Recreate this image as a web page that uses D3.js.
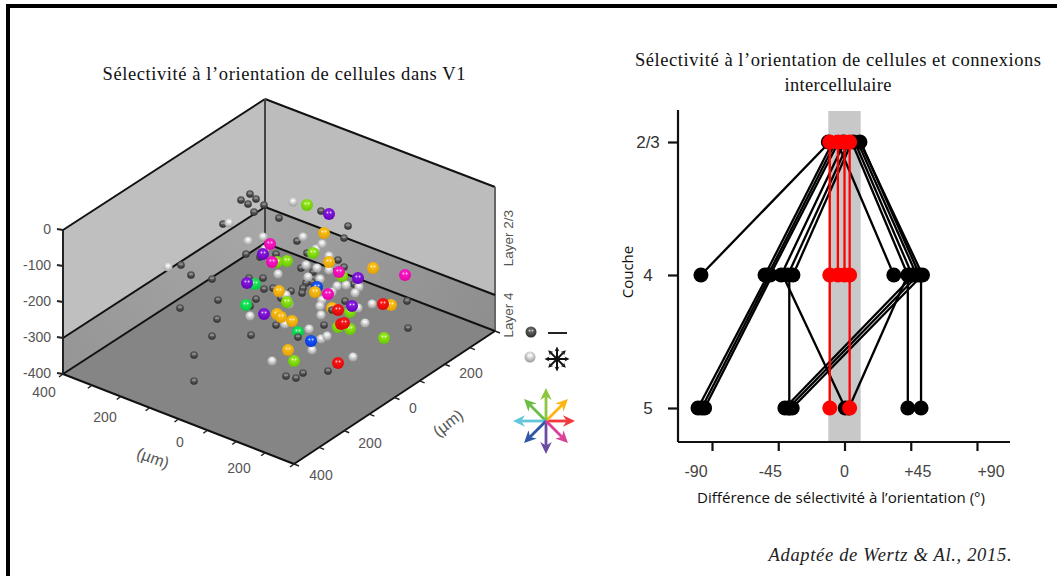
<!DOCTYPE html>
<html><head><meta charset="utf-8">
<script src="https://cdn.jsdelivr.net/npm/d3@7/dist/d3.min.js"></script>
<style>html,body{margin:0;padding:0;background:#fff}svg{display:block}</style>
</head><body><svg id="c" width="1057" height="576"></svg>
<script>
// Cell positions in the oblique view plane of the 3D plot: [across, up]
const darkCells=[[-78,160],[-60,172],[-48,162],[-64,152],[-32,150],[-52,136],[-114,112],[-2,124],[82,138],[136,108],[128,84],[34,78],[-68,52],[-40,46],[-8,52],[-198,30],[-178,10],[-136,2],[-200,-56],[-124,-40],[-126,-78],[-136,-112],[-172,-150],[-172,-202],[-58,-110],[-62,4],[-34,4],[-32,-18],[-14,-16],[22,-22],[2,-36],[-48,-38],[-60,-52],[54,54],[116,40],[128,26],[42,24],[66,16],[64,-4],[52,-6],[46,-16],[44,-26],[148,-8],[130,-42],[88,-90],[-8,-90],[46,-186],[12,-192],[32,-196],[96,-182],[254,-42],[256,-96]];
const whiteCells=[[-224,26],[-102,114],[26,156],[-64,78],[-34,86],[-30,62],[-4,12],[46,86],[72,62],[84,72],[98,48],[52,30],[74,24],[98,20],[56,6],[80,2],[114,-12],[132,-10],[158,-14],[150,-26],[104,-24],[84,-40],[80,-52],[82,-70],[12,-30],[18,-48],[-60,-72],[10,-88],[58,-98],[82,-118],[94,-112],[64,-140],[-16,-162],[146,-154],[170,-86],[184,-48],[156,-56]];
const limeCells=[[54,150],[66,54],[14,38],[-6,36],[14,-44],[124,8],[140,-64],[116,-94],[140,-98],[208,-116],[28,-162]];
const purpleCells=[[98,132],[-34,52],[-66,-6],[-32,-68],[156,4],[144,-52]];
const magentaCells=[[-20,72],[-16,36],[118,16],[250,10],[96,-28]];
const greenCells=[[-50,-8],[-68,-50],[36,-104]];
const orangeCells=[[88,94],[98,36],[186,24],[-2,-22],[70,-24],[-6,-68],[2,-74],[24,-82],[16,-140],[104,-56],[222,-50]];
const blueCells=[[74,-14],[62,-122]];
const redCells=[[206,-48],[116,-60],[122,-88],[128,-86],[116,-166]];
const overlayDarkCells=[[104,-60],[36,-114]];

// Axis values of the 3D box
const depthTicks=[0,-100,-200,-300,-400];
const planTicks=[-400,-300,-200,-100,0,100,200,300,400];

// Right plot: connections [selectivity difference in upper layer, lower layer], degrees
const l23to4Black=[[-10,-97.5],[-8,-54],[-6,-52],[-4,-50.5],[0,-43],[3,-38.5],[5,-35],[-5,33.5],[5,43],[7,46],[9,49],[11,51],[10.5,53]];
const l23to4Red=[[-10,-10],[-4.5,-4.5],[0,0],[3.5,3.5]];
const l4to5Black=[[-52,-99.5],[-50.5,-97],[-49,-95],[-37.5,-37.5],[-42,0.5],[53,-35.5],[50,-38],[47,-40.5],[43,3],[43,43],[52,52]];
const l4to5Red=[[-10,-10],[3.5,3.5]];
const l23Black=[-11,-1,6,10.5];
const layerTicks=[{v:0,t:"2/3"},{v:1,t:"4"},{v:2,t:"5"}];
const diffTicks=[{v:-90,t:"-90",d:-16},{v:-45,t:"-45",d:-8},{v:0,t:"0",d:0},{v:45,t:"+45",d:7},{v:90,t:"+90",d:14}];

const arrowDirs=[{a:0,c:"#f2383c"},{a:45,c:"#fdb515"},{a:90,c:"#8cc63f"},{a:135,c:"#6cbd45"},{a:180,c:"#62c6dc"},{a:225,c:"#2e56a6"},{a:270,c:"#6b4ba1"},{a:315,c:"#dc3f98"}];

const svg=d3.select("#c");
const sans="'Liberation Sans',Arial,sans-serif", serif="'Liberation Serif','Times New Roman',serif";
const defs=svg.append("defs");
svg.append("rect").attr("width",1057).attr("height",576).attr("fill","#fff");
// frame
svg.append("rect").attr("x",6).attr("y",4).attr("width",1051).attr("height",4).attr("fill","#000");
svg.append("rect").attr("x",6).attr("y",4).attr("width",4).attr("height",572).attr("fill","#000");

// ---- 3D box
const P={l:[63,374],b:[265,243],r:[495,331],f:[294,464]};
const zS=d3.scaleLinear().domain([0,-400]).range([144,0]);
const aS=d3.scaleLinear().domain([-400,400]).range([0,1]);
const up=(p,z)=>[p[0],p[1]-zS(z)];
const poly=(pts,fill)=>svg.append("polygon").attr("points",pts.map(p=>p.join(",")).join(" ")).attr("fill",fill);
function grad(id,c0,c1,x1,y1,x2,y2){const g=defs.append("linearGradient").attr("id",id).attr("gradientUnits","userSpaceOnUse").attr("x1",x1).attr("y1",y1).attr("x2",x2).attr("y2",y2);
 g.append("stop").attr("offset",0).attr("stop-color",c0);g.append("stop").attr("offset",1).attr("stop-color",c1);}
grad("bL","#959595","#a8a8a8",63,374,265,205);
grad("bR","#a2a2a2","#8e8e8e",265,205,495,331);
poly([up(P.l,0),up(P.b,0),up(P.b,-300),up(P.l,-300)],"#bfbfbf");
poly([up(P.b,0),up(P.r,0),up(P.r,-300),up(P.b,-300)],"#bcbcbc");
poly([up(P.l,-300),up(P.b,-300),P.b,P.l],"url(#bL)");
poly([up(P.b,-300),up(P.r,-300),P.r,P.b],"url(#bR)");
poly([P.l,P.b,P.r,P.f],"#858585");
const seg=(a,b,c,w)=>svg.append("line").attr("x1",a[0]).attr("y1",a[1]).attr("x2",b[0]).attr("y2",b[1]).attr("stroke",c||"#111").attr("stroke-width",w||2);
seg(up(P.l,0),up(P.b,0));seg(up(P.b,0),up(P.r,0));
seg(up(P.b,0),P.b,"#444");seg(up(P.r,0),P.r,"#666");
seg(up(P.l,-300),up(P.b,-300));seg(up(P.b,-300),up(P.r,-300));
seg(P.l,P.b);seg(P.b,P.r);seg(P.l,P.f);seg(P.f,P.r);seg(up(P.l,0),P.l,"#222");
const lab=(x,y,t,o={})=>svg.append("text").attr("x",x).attr("y",y).attr("text-anchor",o.anchor||"middle").attr("dominant-baseline","central").attr("font-family",o.font||sans).attr("font-size",o.size||14).attr("font-style",o.style||"normal").attr("fill",o.fill||"#555").attr("transform",o.rot!=null?`rotate(${o.rot} ${x} ${y})`:null).text(t);
depthTicks.forEach(z=>{const p=up(P.l,z);seg([p[0]-6,p[1]-1],p,"#222",2);lab(51,p[1]-1,String(z),{anchor:"end"});});
planTicks.forEach(v=>{const t=aS(v);
 const p=[P.l[0]+(P.f[0]-P.l[0])*t,P.l[1]+(P.f[1]-P.l[1])*t];seg([p[0]-4,p[1]+3],p,"#222",1.5);
 const q=[P.f[0]+(P.r[0]-P.f[0])*t,P.f[1]+(P.r[1]-P.f[1])*t];seg([q[0]+5,q[1]+2],q,"#222",1.5);
});
[["400",44,392],["200",105,417],["0",180,442],["200",239,468],["400",321,475],["200",370,443],["0",413,408],["200",471,373]].forEach(d=>lab(d[1],d[2],d[0]));
lab(153,458,"(µm)",{size:16,rot:20});
lab(448,423,"(µm)",{size:16,rot:-38});
lab(508,238,"Layer 2/3",{rot:-90,size:13.5});
lab(508,315,"Layer 4",{rot:-90,size:13.5});

// ---- spheres
const ballColors={dark:["#7a7a7a","#222222"],white:["#ffffff","#909090"],lime:["#a0f020","#60c000"],purple:["#9020e8","#6000b8"],magenta:["#ff20d0","#e000a0"],green:["#20f060","#00c040"],orange:["#ffc820","#e09a00"],blue:["#2060ff","#0030d8"],red:["#ff2020","#dc0000"]};
Object.entries(ballColors).forEach(([k,c])=>{const g=defs.append("radialGradient").attr("id","ball-"+k).attr("cx","50%").attr("cy","35%").attr("r","70%");
 g.append("stop").attr("offset",0).attr("stop-color",c[0]);g.append("stop").attr("offset",1).attr("stop-color",c[1]);});
const vx=d3.scaleLinear().domain([-400,400]).range([80,480]);
const vy=d3.scaleLinear().domain([-400,400]).range([480,80]);
function balls(data,kind,r){
 const g=svg.append("g").selectAll("g").data(data).join("g").attr("transform",d=>`translate(${vx(d[0])},${vy(d[1])})`);
 g.append("circle").attr("r",r).attr("fill",`url(#ball-${kind})`);
 [-1,1].forEach(s=>g.append("circle").attr("cx",s*r*.27).attr("cy",-r*.25).attr("r",r*.16).attr("fill","#fff").attr("opacity",.75));
}
balls(darkCells,"dark",3.8);
balls(whiteCells,"white",4.6);
balls(limeCells,"lime",6);balls(greenCells,"green",6);balls(purpleCells,"purple",6);
balls(blueCells,"blue",6);balls(orangeCells,"orange",6);balls(overlayDarkCells,"dark",3.8);
balls(magentaCells,"magenta",6);balls(redCells,"red",6);

// ---- legend
function legendBall(x,y,kind){const g=svg.append("g").attr("transform",`translate(${x},${y})`);g.append("circle").attr("r",5.5).attr("fill",`url(#ball-${kind})`);
 [-1,1].forEach(s=>g.append("circle").attr("cx",s*1.5).attr("cy",-1.4).attr("r",.9).attr("fill","#fff").attr("opacity",.75));}
legendBall(531,332,"dark");legendBall(530,357,"white");
seg([548,333],[567,333],"#222",2);
function arrow(cx,cy,a,len,head,c,w){const rad=a*Math.PI/180,ux=Math.cos(rad),uy=-Math.sin(rad);
 const tip=[cx+ux*len,cy+uy*len],base=[cx+ux*(len-head),cy+uy*(len-head)],notch=[cx+ux*(len-head*.7),cy+uy*(len-head*.7)];
 const hw=head*.48;
 seg([cx,cy],notch,c,w);
 svg.append("polygon").attr("fill",c).attr("points",[tip,[base[0]-uy*hw,base[1]+ux*hw],notch,[base[0]+uy*hw,base[1]-ux*hw]].map(p=>p.join(",")).join(" "));}
arrowDirs.forEach(d=>arrow(557,359,d.a,12.5,5,"#111",2));
arrowDirs.forEach(d=>arrow(546,421,d.a,d.a%90?31:(d.a==0?29:33),12,d.c,2.8));
svg.append("circle").attr("cx",557).attr("cy",359).attr("r",2.5).attr("fill","#111");

// ---- right plot
const x=d3.scaleLinear().domain([-90,90]).range([712,977]);
const y=d3.scaleLinear().domain([0,2]).range([142,408]);
svg.append("rect").attr("x",x(-11)).attr("y",111).attr("width",x(11)-x(-11)).attr("height",331).attr("fill","#c8c8c8");
const axX=svg.append("g").attr("transform","translate(0,442)").call(d3.axisBottom(x).tickValues(diffTicks.map(d=>d.v)).tickSize(9).tickFormat(""));
axX.select(".domain").attr("d","M678,0H1010").attr("stroke","#111").attr("stroke-width",2.2);
axX.selectAll(".tick line").attr("stroke","#111").attr("stroke-width",2.2);
const axY=svg.append("g").attr("transform","translate(678,0)").call(d3.axisLeft(y).tickValues(layerTicks.map(d=>d.v)).tickSize(10).tickFormat(""));
axY.select(".domain").attr("d","M0,110V442").attr("stroke","#111").attr("stroke-width",2.2);
axY.selectAll(".tick line").attr("stroke","#111").attr("stroke-width",2.2);
diffTicks.forEach(d=>lab(x(d.v)+d.d,471,d.t,{size:16,fill:"#444"}));
layerTicks.forEach(d=>lab(648,y(d.v),d.t,{size:17,fill:"#333"}));
lab(627,272,"Couche",{font:"'Open Sans',sans-serif",size:15,rot:-90,fill:"#111"});
const link=(data,a,b,c)=>svg.append("g").selectAll("line").data(data).join("line").attr("x1",d=>x(d[0])).attr("y1",y(a)).attr("x2",d=>x(d[1])).attr("y2",y(b)).attr("stroke",c).attr("stroke-width",2.3);
const dots=(vals,l,c)=>svg.append("g").selectAll("circle").data(vals).join("circle").attr("cx",d=>x(d)).attr("cy",y(l)).attr("r",7.5).attr("fill",c);
link(l23to4Black,0,1,"#000");link(l4to5Black,1,2,"#000");
dots(l23Black,0,"#000");
dots(l23to4Black.map(d=>d[1]),1,"#000");
dots(l4to5Black.map(d=>d[1]),2,"#000");
link(l23to4Red,0,1,"#f00");link(l4to5Red,1,2,"#f00");
dots(l23to4Red.map(d=>d[0]),0,"#f00");
dots(l23to4Red.map(d=>d[1]),1,"#f00");
dots(l4to5Red.map(d=>d[1]),2,"#f00");

// ---- titles
function fit(xc,yc,t,w,o){const n=lab(xc,yc,t,o);n.attr("textLength",w).attr("lengthAdjust",o.adj||"spacingAndGlyphs");return n;}
fit(284,74,"Sélectivité à l’orientation de cellules dans V1",363,{font:serif,size:18.5,fill:"#111",adj:"spacing"});
fit(838,60,"Sélectivité à l’orientation de cellules et connexions",406,{font:serif,size:18.5,fill:"#111",adj:"spacing"});
fit(838,85,"intercellulaire",107,{font:serif,size:18.5,fill:"#111",adj:"spacing"});
fit(841,497,"Différence de sélectivité à l’orientation (°)",288,{font:"'Open Sans',sans-serif",size:14.5,fill:"#111"});
fit(890,555,"Adaptée de Wertz & Al., 2015.",243,{font:serif,size:18.5,style:"italic",fill:"#222",adj:"spacing"});
</script></body></html>
